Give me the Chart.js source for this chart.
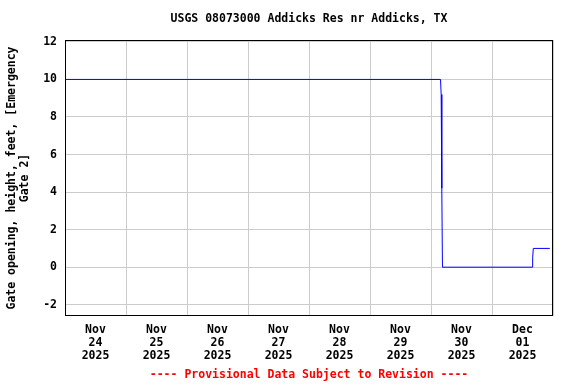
<!DOCTYPE html>
<html>
<head>
<meta charset="utf-8">
<script src="https://cdn.jsdelivr.net/npm/chart.js@4.4.1/dist/chart.umd.min.js"></script>
<style>
  html, body { margin: 0; padding: 0; background: #ffffff; }
  #wrap { width: 576px; height: 384px; }
</style>
</head>
<body>
<div id="wrap"><canvas id="c" width="576" height="384"></canvas></div>
<script>
// Hours since Nov 24 2025 00:00
const timesHours = [0, 147.75, 148.0, 148.25, 148.5, 183.75, 184.0, 184.25, 190.75];
const gateOpening = [10, 10, 9.2, 4.2, 0, 0, 0.5, 1.0, 1.0];
const dayMonths = ['Nov', 'Nov', 'Nov', 'Nov', 'Nov', 'Nov', 'Nov', 'Dec'];
const dayNumbers = ['24', '25', '26', '27', '28', '29', '30', '01'];
const dayYears = ['2025', '2025', '2025', '2025', '2025', '2025', '2025', '2025'];
const yTickValues = [-2, 0, 2, 4, 6, 8, 10, 12];
const chartTitle = 'USGS 08073000 Addicks Res nr Addicks, TX';
const footerText = '---- Provisional Data Subject to Revision ----';
const yAxisTitle = ['Gate opening, height, feet, [Emergency', 'Gate 2]'];

const FONT = "'DejaVu Sans Mono', 'Liberation Mono', monospace";
const fontSpec = { family: FONT, size: 11.5, weight: 'bold', lineHeight: 1.1 };

const framePlugin = {
  id: 'plotFrame',
  afterDraw(chart) {
    const a = chart.chartArea, ctx = chart.ctx;
    ctx.save();
    ctx.strokeStyle = '#000000';
    ctx.lineWidth = 1;
    ctx.strokeRect(Math.round(a.left) + 0.5, Math.round(a.top) + 0.5,
                   Math.round(a.right - a.left) - 1, Math.round(a.bottom - a.top) - 1);
    const cx = (a.left + a.right) / 2;
    ctx.font = 'bold 11.5px ' + FONT;
    ctx.textAlign = 'center';
    ctx.textBaseline = 'middle';
    ctx.fillStyle = '#000000';
    ctx.fillText(chartTitle, cx, 19);
    ctx.fillStyle = '#ff0000';
    ctx.fillText(footerText, cx, 375);
    ctx.restore();
  }
};

new Chart(document.getElementById('c'), {
  type: 'line',
  data: {
    datasets: [{
      data: timesHours.map((t, i) => ({ x: t, y: gateOpening[i] })),
      borderColor: '#0000ff',
      borderWidth: 1,
      pointRadius: 0,
      tension: 0,
      fill: false
    }]
  },
  options: {
    responsive: false,
    animation: false,
    layout: { padding: { left: 0, right: 23, top: 40, bottom: 20 } },
    plugins: {
      legend: { display: false },
      tooltip: { enabled: false },
      title: { display: false },
      subtitle: { display: false }
    },
    scales: {
      x: {
        type: 'linear',
        min: 0,
        max: 192,
        afterBuildTicks(scale) {
          const t = [];
          for (let h = 0; h <= 192; h += 12) t.push({ value: h });
          scale.ticks = t;
        },
        afterFit(scale) { scale.height = 48; },
        ticks: {
          autoSkip: false,
          maxRotation: 0,
          minRotation: 0,
          padding: 8,
          color: '#000000',
          font: fontSpec,
          callback(value) {
            if (value % 24 === 12) {
              const i = Math.floor(value / 24);
              return [dayMonths[i], dayNumbers[i], dayYears[i]];
            }
            return '';
          }
        },
        grid: {
          drawTicks: false,
          color(ctx) {
            return (ctx.tick && ctx.tick.value % 24 === 0) ? '#cccccc' : 'rgba(0,0,0,0)';
          },
          lineWidth: 1
        },
        border: { display: false }
      },
      y: {
        type: 'linear',
        min: -2.6,
        max: 12.1,
        afterBuildTicks(scale) {
          scale.ticks = yTickValues.map(v => ({ value: v }));
        },
        afterFit(scale) { scale.width = 65; },
        ticks: {
          padding: 8,
          color: '#000000',
          font: fontSpec
        },
        grid: {
          drawTicks: false,
          color: '#cccccc',
          lineWidth: 1
        },
        border: { display: false },
        title: {
          display: true,
          text: yAxisTitle,
          color: '#000000',
          font: { family: FONT, size: 11.5, weight: 'bold', lineHeight: 1.1 },
          padding: { top: 6, bottom: 0 }
        }
      }
    }
  },
  plugins: [framePlugin]
});
</script>
</body>
</html>
